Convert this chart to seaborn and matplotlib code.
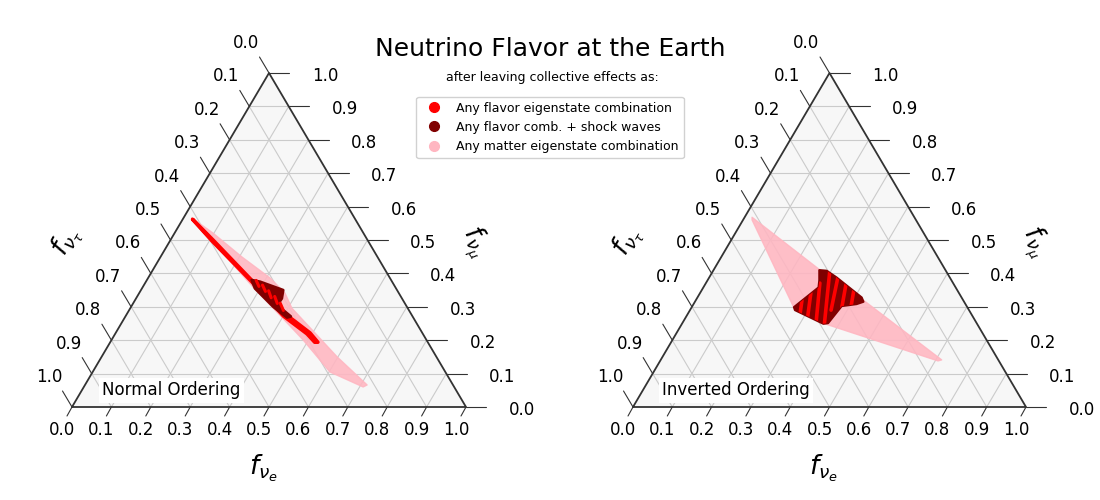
import matplotlib
matplotlib.use("Agg")
import matplotlib.pyplot as plt
from matplotlib.lines import Line2D
from matplotlib.patches import Polygon
import numpy as np
import seaborn as sns

sns.set_theme(style="white")
plt.rcParams["text.color"] = "black"

ticks = [0.0, 0.1, 0.2, 0.3, 0.4, 0.5, 0.6, 0.7, 0.8, 0.9, 1.0]

# polygons are (f_e, f_mu), f_tau is what is left over
normal_matter_e = [.021, .097, .207, .310, .370, .410, .486, .598, .716, .709, .602, .486, .390, .280, .111, .025]
normal_matter_mu = [.566, .521, .449, .386, .341, .296, .237, .150, .066, .060, .105, .201, .275, .359, .494, .560]
normal_flavor_e = [.025, .108, .271, .403, .493, .527, .519, .487, .401, .270, .107]
normal_flavor_mu = [.562, .500, .376, .278, .222, .194, .194, .219, .272, .374, .497]
normal_shock_e = [.266, .290, .361, .370, .369, .391, .420, .412, .361, .287]
normal_shock_mu = [.380, .375, .350, .325, .310, .290, .271, .268, .300, .355]
normal_stripes = [
    ((.278, .379), (.294, .361)),
    ((.301, .365), (.318, .346)),
    ((.325, .348), (.342, .327)),
    ((.349, .331), (.366, .310)),
    ((.373, .311), (.392, .289)),
]

inverted_matter_e = [.019, .271, .426, .715, .707, .364, .262, .023]
inverted_matter_mu = [.568, .410, .320, .141, .138, .249, .296, .560]
inverted_shock_e = [.269, .289, .324, .418, .429, .415, .380, .371, .360, .267, .260, .293, .284]
inverted_shock_mu = [.410, .408, .388, .328, .315, .308, .302, .251, .249, .290, .299, .358, .380]
inverted_stripes = [
    ((.270, .320), (.286, .278)),
    ((.282, .341), (.311, .266)),
    ((.290, .371), (.339, .254)),
    ((.296, .410), (.365, .243)),
    ((.326, .392), (.359, .290)),
    ((.358, .368), (.382, .299)),
    ((.388, .347), (.404, .302)),
]

RED = "#ff0000"
DARK = "#800000"
PINK = "#ffb6c1"
GRID = "#cbcbcb"
FRAME = "#333333"


def ternary(e, mu):
    e = np.asarray(e, dtype=float)
    mu = np.asarray(mu, dtype=float)
    return e + mu / 2, mu


def region(ax, e, mu, color, lw=0.0, zorder=3, alpha=1.0):
    x, y = ternary(e, mu)
    patch = Polygon(np.column_stack([x, y]), closed=True, facecolor=color, edgecolor=color,
                    linewidth=lw, joinstyle="round", alpha=alpha, zorder=zorder)
    ax.add_patch(patch)
    return patch


def seg(ax, e, mu, color, lw, zorder=2, clip=True):
    x, y = ternary(e, mu)
    sns.lineplot(x=x, y=y, sort=False, estimator=None, color=color, linewidth=lw, ax=ax,
                 zorder=zorder, clip_on=clip, legend=False)
    return ax.lines[-1]


def draw_frame(ax):
    ax.set_xlim(0, 1)
    ax.set_ylim(0, 1)
    ax.axis("off")
    region(ax, [0, 1, 0], [0, 0, 1], "#f7f7f7", zorder=1)

    for v in ticks[1:-1]:
        seg(ax, [0, 1 - v], [v, v], GRID, 0.8)
        seg(ax, [v, v], [0, 1 - v], GRID, 0.8)
        seg(ax, [v, 0], [0, v], GRID, 0.8)

    seg(ax, [0, 1, 0, 0], [0, 0, 1, 0], FRAME, 1.3, zorder=6, clip=False)

    dxb, dyb = -5 / 394, -9 / 334
    dxl, dyl = -9.5 / 394, 16 / 334
    dxr = 20.5 / 394
    for v in ticks:
        lab = f"{v:.1f}"
        # f_e along the bottom
        x, y = ternary(v, 0)
        ax.plot([x, x + dxb], [y, y + dyb], color=FRAME, lw=0.8, clip_on=False, zorder=6)
        ax.annotate(lab, (x, y), xytext=(-10, -23), textcoords="offset pixels", ha="center", va="center",
                    fontsize=12, color="black", annotation_clip=False)
        # f_tau along the left
        x, y = ternary(0, 1 - v)
        ax.plot([x, x + dxl], [y, y + dyl], color=FRAME, lw=0.8, clip_on=False, zorder=6)
        ax.annotate(lab, (x, y), xytext=(-23, 30), textcoords="offset pixels", ha="center", va="center",
                    fontsize=12, color="black", annotation_clip=False)
        # f_mu along the right
        x, y = ternary(1 - v, v)
        ax.plot([x, x + dxr], [y, y], color=FRAME, lw=0.8, clip_on=False, zorder=6)
        ax.annotate(lab, (x, y), xytext=(56, -3), textcoords="offset pixels", ha="center", va="center",
                    fontsize=12, color="black", annotation_clip=False)

    ax.text(0.485, -0.183, r"$f_{\nu_e}$", transform=ax.transAxes, fontsize=19, ha="center", va="center")
    ax.text(-0.013, 0.495, r"$f_{\nu_\tau}$", transform=ax.transAxes, fontsize=19, ha="center", va="center", rotation=60)
    ax.text(1.022, 0.495, r"$f_{\nu_\mu}$", transform=ax.transAxes, fontsize=19, ha="center", va="center", rotation=-60)


fig = plt.figure(figsize=(11, 5), dpi=100)
ax1 = fig.add_axes([72 / 1100, 93 / 500, 394 / 1100, 334 / 500])
ax2 = fig.add_axes([633 / 1100, 93 / 500, 393 / 1100, 334 / 500])

draw_frame(ax1)
region(ax1, normal_matter_e, normal_matter_mu, PINK, lw=1.0, zorder=3, alpha=0.88)
region(ax1, normal_flavor_e, normal_flavor_mu, RED, lw=2.6, zorder=4)
region(ax1, normal_shock_e, normal_shock_mu, DARK, lw=2.0, zorder=5)
for a, b in normal_stripes:
    seg(ax1, [a[0], b[0]], [a[1], b[1]], RED, 2.2, zorder=5.5)
ax1.text(30 / 394, 17 / 334, "Normal Ordering", fontsize=12, ha="left", va="center", zorder=7,
         bbox=dict(facecolor="white", edgecolor="none", pad=2.5))

draw_frame(ax2)
region(ax2, inverted_matter_e, inverted_matter_mu, PINK, lw=1.0, zorder=3, alpha=0.88)
shock = region(ax2, inverted_shock_e, inverted_shock_mu, DARK, lw=1.5, zorder=4)
for a, b in inverted_stripes:
    line = seg(ax2, [a[0], b[0]], [a[1], b[1]], RED, 2.6, zorder=5)
    line.set_clip_path(shock)
ax2.text(29 / 393, 17 / 334, "Inverted Ordering", fontsize=12, ha="left", va="center", zorder=7,
         bbox=dict(facecolor="white", edgecolor="none", pad=2.5))

fig.text(550 / 1100, 1 - 49 / 500, "Neutrino Flavor at the Earth", fontsize=18, ha="center", va="center")
fig.text(552 / 1100, 1 - 77 / 500, "after leaving collective effects as:", fontsize=9, ha="center", va="center")

handles = [
    Line2D([], [], marker="o", linestyle="none", color=RED, markersize=7, label="Any flavor eigenstate combination"),
    Line2D([], [], marker="o", linestyle="none", color=DARK, markersize=7, label="Any flavor comb. + shock waves"),
    Line2D([], [], marker="o", linestyle="none", color=PINK, markersize=7, label="Any matter eigenstate combination"),
]
fig.legend(handles=handles, loc="upper left", bbox_to_anchor=(416 / 1100, 1 - 96.5 / 500), fontsize=9, labelcolor="black",
           frameon=True, framealpha=0.9, edgecolor="#cccccc", fancybox=True, borderaxespad=0)

fig.savefig("out.png", dpi=100)
